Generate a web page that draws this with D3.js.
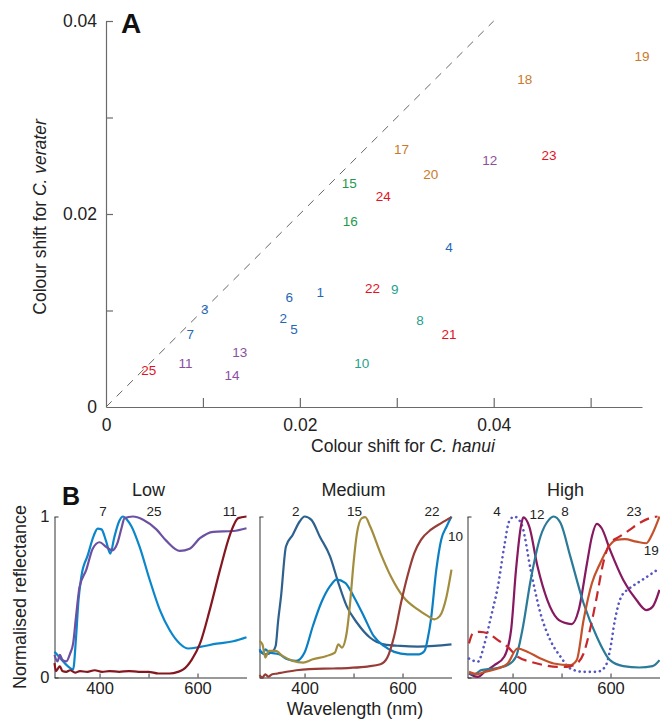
<!DOCTYPE html>
<html>
<head>
<meta charset="utf-8">
<script src="https://cdn.jsdelivr.net/npm/d3@7"></script>
<style>
  html, body { margin: 0; padding: 0; background: #fff; }
  svg { display: block; font-family: "Liberation Sans", Arial, Helvetica, sans-serif; }
</style>
</head>
<body>
<svg id="chart" width="660" height="721"></svg>
<script>
// ---------- Panel A data ----------
const pointIds = [1,2,3,4,5,6,7,8,9,10,11,12,13,14,15,16,17,18,19,20,21,22,23,24,25];
const shiftHanui = [0.0221,0.0183,0.0102,0.0354,0.0194,0.0189,0.0087,0.0324,0.0298,0.0264,
                    0.0082,0.0396,0.0138,0.0130,0.0251,0.0252,0.0305,0.0432,0.0553,0.0335,
                    0.0354,0.0275,0.0457,0.0286,0.0044];
const shiftVerater = [0.0119,0.0092,0.0101,0.0166,0.0081,0.0114,0.0075,0.0090,0.0122,0.0045,
                      0.0045,0.0256,0.0057,0.0033,0.0232,0.0193,0.0267,0.0340,0.0364,0.0241,
                      0.0075,0.0123,0.0261,0.0218,0.0038];
const pointGroup = ["blue","blue","blue","blue","blue","blue","blue","teal","teal","teal",
                    "purple","purple","purple","purple","green","green","orange","orange","orange","orange",
                    "red","red","red","red","red"];
const groupNames = ["blue","teal","purple","green","orange","red"];
const groupColors = ["#1f68b6","#27a08e","#8c4f9f","#1f9a4c","#c87a2c","#e2131f"];
const xTicksA = [0,0.01,0.02,0.03,0.04,0.05];
const yTicksA = [0,0.01,0.02,0.03,0.04];
const labelledTicksA = [0,0.02,0.04];

// ---------- Panel B data (normalised reflectance spectra) ----------
const panelTitles = ["Low","Medium","High"];
const wlTicks = [400,500,600];
const wlLabels = [400,600];

// Low
const wl7  = [308,320,335,346,352,357,363,376,388,396,404,413,422,430,440,448,456,465,482,502,523,543,564,581,605,639,673,700];
const r7   = [0.16,0.12,0.07,0.05,0.25,0.48,0.63,0.76,0.88,0.925,0.92,0.85,0.77,0.87,0.97,1.0,0.98,0.94,0.81,0.61,0.42,0.295,0.21,0.18,0.19,0.21,0.225,0.25];
const wl25 = [308,314,319,324,332,340,346,352,359,373,386,400,414,426,437,445,451,468,489,516,536,564,584,605,632,673,700];
const r25  = [0.14,0.10,0.14,0.11,0.10,0.15,0.21,0.38,0.56,0.67,0.80,0.84,0.81,0.79,0.84,0.93,0.99,1.0,0.98,0.92,0.85,0.786,0.80,0.865,0.905,0.91,0.927];
const wl11 = [308,311,316,319,324,332,340,350,360,375,390,405,420,440,460,480,500,520,543,560,571,588,605,625,646,666,683,700];
const r11  = [0.09,0.04,0.06,0.07,0.04,0.035,0.045,0.03,0.04,0.035,0.045,0.035,0.04,0.035,0.04,0.035,0.035,0.025,0.025,0.035,0.05,0.11,0.21,0.42,0.67,0.885,0.99,1.0];

// Medium
const wl2  = [308,320,334,341,346,352,362,376,390,400,414,431,452,469,486,507,534,562,596,631,665,700];
const r2   = [0.165,0.144,0.159,0.196,0.35,0.505,0.814,0.887,0.969,1.0,0.979,0.876,0.753,0.588,0.443,0.34,0.247,0.206,0.196,0.192,0.196,0.206];
const wl10 = [308,315,320,328,348,365,383,400,417,434,452,465,483,500,521,541,562,583,610,634,645,652,658,669,679,690,700];
const r10  = [0.175,0.15,0.175,0.155,0.144,0.113,0.103,0.155,0.32,0.464,0.567,0.608,0.588,0.505,0.381,0.258,0.196,0.159,0.144,0.144,0.165,0.25,0.36,0.67,0.856,0.938,1.0];
const wl15 = [308,314,320,327,341,355,376,397,417,445,462,469,476,486,493,500,507,517,524,534,555,576,603,631,652,665,676,690,700];
const r15  = [0.227,0.206,0.124,0.165,0.165,0.134,0.103,0.093,0.113,0.134,0.155,0.206,0.186,0.278,0.464,0.711,0.897,0.99,0.996,0.938,0.773,0.629,0.495,0.423,0.381,0.361,0.381,0.505,0.67];
const wl22 = [308,314,320,326,334,345,355,383,410,459,493,528,555,569,583,597,610,624,638,658,679,700];
const r22  = [0.015,0.0,0.02,0.005,0.02,0.025,0.031,0.045,0.052,0.056,0.06,0.068,0.082,0.124,0.258,0.464,0.629,0.773,0.856,0.918,0.959,0.996];

// High
const wl4  = [311,329,343,356,370,383,393,404,410,420,437,457,477,498,518,545,572,589,599,609,622,639,659,680,700];
const r4   = [0.118,0.098,0.212,0.378,0.564,0.813,0.969,1.0,0.99,0.938,0.668,0.398,0.232,0.129,0.056,0.035,0.035,0.066,0.17,0.357,0.502,0.554,0.595,0.637,0.678];
const wl12 = [311,329,343,363,383,397,407,417,422,434,451,471,491,511,521,535,552,562,572,582,599,626,653,673,686,700];
const r12  = [0.025,0.004,0.035,0.077,0.129,0.295,0.668,0.938,0.994,0.938,0.689,0.481,0.367,0.336,0.332,0.419,0.71,0.876,0.954,0.927,0.793,0.606,0.481,0.419,0.44,0.544];
const wl8  = [311,323,336,363,390,407,420,437,457,474,484,498,518,545,572,599,626,659,686,700];
const r8   = [0.025,0.021,0.046,0.056,0.077,0.129,0.295,0.606,0.876,0.979,1.0,0.959,0.751,0.461,0.253,0.108,0.071,0.062,0.071,0.108];
const wl19 = [311,329,343,370,390,410,430,457,484,518,531,545,562,579,599,612,629,653,673,686,700];
const r19  = [0.035,0.021,0.035,0.056,0.087,0.18,0.16,0.118,0.087,0.077,0.108,0.357,0.585,0.71,0.824,0.855,0.859,0.844,0.834,0.896,1.0];
const wl23 = [311,319,333,350,370,390,410,437,464,491,511,531,545,558,572,585,599,619,639,659,680,696];
const r23  = [0.212,0.274,0.284,0.274,0.232,0.19,0.129,0.098,0.077,0.066,0.066,0.087,0.149,0.295,0.502,0.71,0.834,0.876,0.917,0.959,0.99,1.0];

// curve labels
const labelText = [["7","25","11"],["2","15","22","10"],["4","12","8","23","19"]];
const labelWl   = [[407,511,666],[382,502,660,708],[368,450,507,648,683]];
const labelR    = [[1.032,1.032,1.032],[1.032,1.032,1.032,0.88],[1.032,1.015,1.032,1.032,0.79]];

// ---------- drawing ----------
const svg = d3.select("#chart");

// ===== Panel A =====
const xA = d3.scaleLinear().domain([0, 0.0553]).range([106, 642]);
const yA = d3.scaleLinear().domain([0, 0.04]).range([407, 21]);
const axisColA = "#6a6a6a";
const fmtA = d => labelledTicksA.some(t => Math.abs(t - d) < 1e-9) ? (d === 0 ? "0" : d3.format(".2f")(d)) : "";

const gxA = svg.append("g").attr("transform", `translate(0,${yA(0)})`)
  .call(d3.axisBottom(xA).tickValues(xTicksA).tickSizeInner(-9).tickSizeOuter(0).tickPadding(12).tickFormat(fmtA));
const gyA = svg.append("g").attr("transform", `translate(${xA(0)},0)`)
  .call(d3.axisLeft(yA).tickValues(yTicksA).tickSizeInner(-7).tickSizeOuter(0).tickPadding(9).tickFormat(fmtA));
[gxA, gyA].forEach(g => {
  g.select(".domain").attr("stroke", axisColA).attr("stroke-width", 1.2);
  g.selectAll(".tick line").attr("stroke", axisColA).attr("stroke-width", 1.2);
  g.selectAll(".tick text").attr("fill", "#222").style("font-size", "17.5px")
    .style("font-family", '"Liberation Sans", Arial, sans-serif');
});
gyA.selectAll(".tick").filter(d => d === 0).select("line").remove();
gxA.selectAll(".tick").filter(d => d === 0).select("line").remove();

// diagonal dashed 1:1 line
svg.append("line")
  .attr("x1", xA(0)).attr("y1", yA(0)).attr("x2", xA(0.04)).attr("y2", yA(0.04))
  .attr("stroke", "#666").attr("stroke-width", 1).attr("stroke-dasharray", "8,7");

// point labels
const colorOf = d3.scaleOrdinal().domain(groupNames).range(groupColors);
svg.append("g").selectAll("text").data(pointIds).join("text")
  .attr("x", (d, i) => xA(shiftHanui[i]))
  .attr("y", (d, i) => yA(shiftVerater[i]))
  .attr("dy", "0.36em")
  .attr("text-anchor", "middle")
  .attr("fill", (d, i) => colorOf(pointGroup[i]))
  .style("font-size", "13.5px")
  .text(d => d);

// axis titles
const xt = svg.append("text").attr("x", 403).attr("y", 452).attr("text-anchor", "middle")
  .attr("fill", "#222").style("font-size", "17.5px");
xt.append("tspan").text("Colour shift for ");
xt.append("tspan").attr("font-style", "italic").text("C. hanui");
const yt = svg.append("text").attr("transform", "translate(46,217) rotate(-90)").attr("text-anchor", "middle")
  .attr("fill", "#222").style("font-size", "17.5px");
yt.append("tspan").text("Colour shift for ");
yt.append("tspan").attr("font-style", "italic").text("C. verater");

svg.append("text").attr("x", 121).attr("y", 33).attr("fill", "#111")
  .style("font-size", "28px").style("font-weight", "bold").text("A");

// ===== Panel B =====
const panelLeft = [54.5, 259.5, 467.5];
const panelWidth = 192;
const yB = d3.scaleLinear().domain([0, 1]).range([677.5, 516.5]);
const series = [
  [ {wl: wl7, r: r7, c: "#0a86cc", dash: null},
    {wl: wl25, r: r25, c: "#6c51a3", dash: null},
    {wl: wl11, r: r11, c: "#84161f", dash: null} ],
  [ {wl: wl2, r: r2, c: "#2e618e", dash: null},
    {wl: wl10, r: r10, c: "#0a7fc4", dash: null},
    {wl: wl15, r: r15, c: "#a28d3e", dash: null},
    {wl: wl22, r: r22, c: "#963d38", dash: null} ],
  [ {wl: wl4, r: r4, c: "#5656c0", dash: "dot"},
    {wl: wl12, r: r12, c: "#86195f", dash: null},
    {wl: wl8, r: r8, c: "#2a7a98", dash: null},
    {wl: wl19, r: r19, c: "#c3512b", dash: null},
    {wl: wl23, r: r23, c: "#c8282b", dash: "dash"} ]
];

panelTitles.forEach((title, p) => {
  const xB = d3.scaleLinear().domain([308, 700]).range([panelLeft[p], panelLeft[p] + panelWidth]);
  const g = svg.append("g");

  const gx = g.append("g").attr("transform", `translate(0,${yB(0)})`)
    .call(d3.axisBottom(xB).tickValues(wlTicks).tickSizeInner(-4).tickSizeOuter(0).tickPadding(5)
      .tickFormat(d => wlLabels.includes(d) ? d : ""));
  const gy = g.append("g").attr("transform", `translate(${panelLeft[p]},0)`)
    .call(d3.axisLeft(yB).tickValues([0, 1]).tickSizeInner(-4).tickSizeOuter(0).tickPadding(5)
      .tickFormat(d => p === 0 ? d : ""));
  [gx, gy].forEach(a => {
    a.select(".domain").attr("stroke", "#333").attr("stroke-width", 1);
    a.selectAll(".tick line").attr("stroke", "#333");
    a.selectAll(".tick text").attr("fill", "#222").style("font-size", "16.5px")
      .style("font-family", '"Liberation Sans", Arial, sans-serif');
  });

  const line = d3.line().x(d => xB(d[0])).y(d => yB(d[1])).curve(d3.curveMonotoneX);
  series[p].forEach(s => {
    const path = g.append("path")
      .datum(s.wl.map((w, i) => [w, s.r[i]]))
      .attr("d", line).attr("fill", "none").attr("stroke", s.c)
      .attr("stroke-width", 2.2).attr("stroke-linejoin", "round");
    if (s.dash === "dot") path.attr("stroke-dasharray", "0.1,5").attr("stroke-linecap", "round").attr("stroke-width", 2.6);
    if (s.dash === "dash") path.attr("stroke-dasharray", "10,6");
  });

  // title
  g.append("text").attr("x", panelLeft[p] + panelWidth / 2 - (p === 2 ? -2 : 2))
    .attr("y", 496).attr("text-anchor", "middle").attr("fill", "#222")
    .style("font-size", "18px").text(title);

  // curve labels
  labelText[p].forEach((t, i) => {
    g.append("text").attr("x", xB(labelWl[p][i])).attr("y", yB(labelR[p][i])).attr("dy", "0.36em")
      .attr("text-anchor", "middle").attr("fill", "#222").style("font-size", "13.5px").text(t);
  });
});

svg.append("text").attr("x", 62).attr("y", 505).attr("fill", "#111")
  .style("font-size", "25px").style("font-weight", "bold").text("B");
svg.append("text").attr("transform", "translate(26,597) rotate(-90)").attr("text-anchor", "middle")
  .attr("fill", "#222").style("font-size", "18px").text("Normalised reflectance");
svg.append("text").attr("x", 355).attr("y", 715).attr("text-anchor", "middle")
  .attr("fill", "#222").style("font-size", "18px").text("Wavelength (nm)");
</script>
</body>
</html>
